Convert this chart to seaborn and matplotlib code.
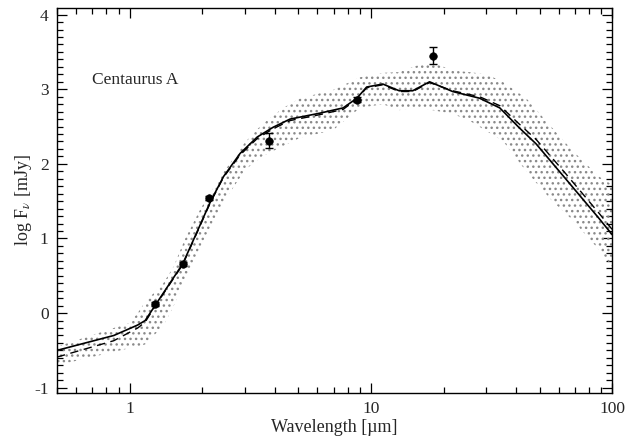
import numpy as np
import seaborn as sns
import matplotlib
matplotlib.use("Agg")
import matplotlib.pyplot as plt
from matplotlib.ticker import LogLocator, FixedLocator, NullFormatter, MultipleLocator

# model curve (solid) and alternative model (dashed)
model_wl = [0.5, 0.86, 1.08, 1.16, 1.28, 1.66, 1.91, 2.16, 2.45, 2.87, 3.38, 3.93, 4.62,
            6.15, 7.67, 8.75, 9.6, 11.2, 13.1, 14.9, 17.5, 21.8, 28.2, 34.2, 41.3, 48.3,
            64.5, 88.1, 100]
model_solid = [-0.50, -0.30, -0.16, -0.10, 0.11, 0.66, 1.10, 1.49, 1.83, 2.14, 2.36, 2.49,
               2.60, 2.68, 2.75, 2.88, 3.03, 3.07, 2.98, 2.98, 3.10, 2.97, 2.88, 2.75, 2.48,
               2.27, 1.79, 1.27, 1.05]
model_dashed = [-0.59, -0.37, -0.20, -0.12, 0.10, 0.65, 1.09, 1.48, 1.82, 2.12, 2.34, 2.47,
                2.58, 2.66, 2.73, 2.87, 3.02, 3.06, 2.97, 2.97, 3.09, 2.98, 2.90, 2.78, 2.53,
                2.33, 1.86, 1.34, 1.12]

# uncertainty band of the model
band_wl = [0.5, 1.0, 1.08, 1.16, 1.38, 1.52, 1.70, 1.97, 2.33, 2.61, 3.01, 3.54, 4.33, 5.09,
           6.96, 9.0, 11.2, 13.1, 15.9, 18.0, 21.8, 25.6, 30.1, 35.2, 44.0, 56.5, 68.4,
           88.1, 100]
band_hi = [-0.45, -0.13, 0.00, 0.15, 0.40, 0.62, 1.00, 1.40, 1.79, 2.01, 2.29, 2.53, 2.75,
           2.88, 2.99, 3.16, 3.22, 3.23, 3.33, 3.36, 3.25, 3.23, 3.20, 3.10, 2.88, 2.48,
           2.18, 1.83, 1.72]
band_lo = [-0.70, -0.47, -0.45, -0.42, -0.17, 0.09, 0.45, 0.90, 1.36, 1.62, 1.92, 2.10, 2.24,
           2.35, 2.45, 2.75, 2.80, 2.72, 2.75, 2.72, 2.67, 2.58, 2.44, 2.31, 1.90, 1.50,
           1.25, 0.85, 0.62]

# photometry
obs_wl = [1.28, 1.67, 2.14, 3.79, 8.75, 18.0]
obs_flux = [0.12, 0.66, 1.54, 2.31, 2.86, 3.45]
obs_err = [0.03, 0.03, 0.03, 0.10, 0.03, 0.11]

sns.set_theme(style="ticks")
plt.rcParams['font.family'] = ['Liberation Serif', 'DejaVu Serif']
plt.rcParams['mathtext.fontset'] = 'stix'
plt.rcParams['axes.unicode_minus'] = False
plt.rcParams['hatch.linewidth'] = 1.0

fig = plt.figure(figsize=(6.26, 4.41), dpi=100)
ax = fig.add_axes([0.091, 0.109, 0.887, 0.873])
ax.set_xscale('log')

ax.fill_between(band_wl, band_lo, band_hi, facecolor='none', edgecolor='#8a8a8a',
                hatch='...', linewidth=0)

sns.lineplot(x=model_wl, y=model_dashed, ax=ax, color='black', linewidth=1.0,
             linestyle=(0, (6, 4)), sort=False)
sns.lineplot(x=model_wl, y=model_solid, ax=ax, color='black', linewidth=1.2, sort=False)

ax.errorbar(obs_wl, obs_flux, yerr=obs_err, fmt='none', ecolor='black', elinewidth=1,
            capsize=3, capthick=1)
sns.scatterplot(x=obs_wl, y=obs_flux, ax=ax, color='black', s=30, edgecolor='black',
                zorder=5)

ax.set_xlim(0.5, 100)
ax.set_ylim(-1.07, 4.09)
ax.xaxis.set_major_locator(FixedLocator([1, 10, 100]))
ax.xaxis.set_major_formatter(plt.FuncFormatter(lambda v, p: f"{v:g}"))
ax.xaxis.set_minor_locator(LogLocator(base=10, subs=np.arange(2, 10), numticks=20))
ax.xaxis.set_minor_formatter(NullFormatter())
ax.yaxis.set_major_locator(FixedLocator([-1, 0, 1, 2, 3, 4]))
ax.yaxis.set_minor_locator(MultipleLocator(0.1))

ax.tick_params(which='both', direction='in', top=True, right=True, labelsize=12.5,
               color='black', width=0.9)
ax.tick_params(which='major', length=7, pad=6)
ax.tick_params(which='minor', length=4)
for s in ax.spines.values():
    s.set_linewidth(1.0)
    s.set_color('black')

ax.set_xlabel('Wavelength [µm]', fontsize=13, labelpad=1)
ax.set_ylabel(r'log F$_{\nu}$ [mJy]', fontsize=13, labelpad=0)
ax.text(0.063, 0.813, 'Centaurus A', transform=ax.transAxes, fontsize=12.5, va='center')

fig.savefig('out.png', dpi=100)
